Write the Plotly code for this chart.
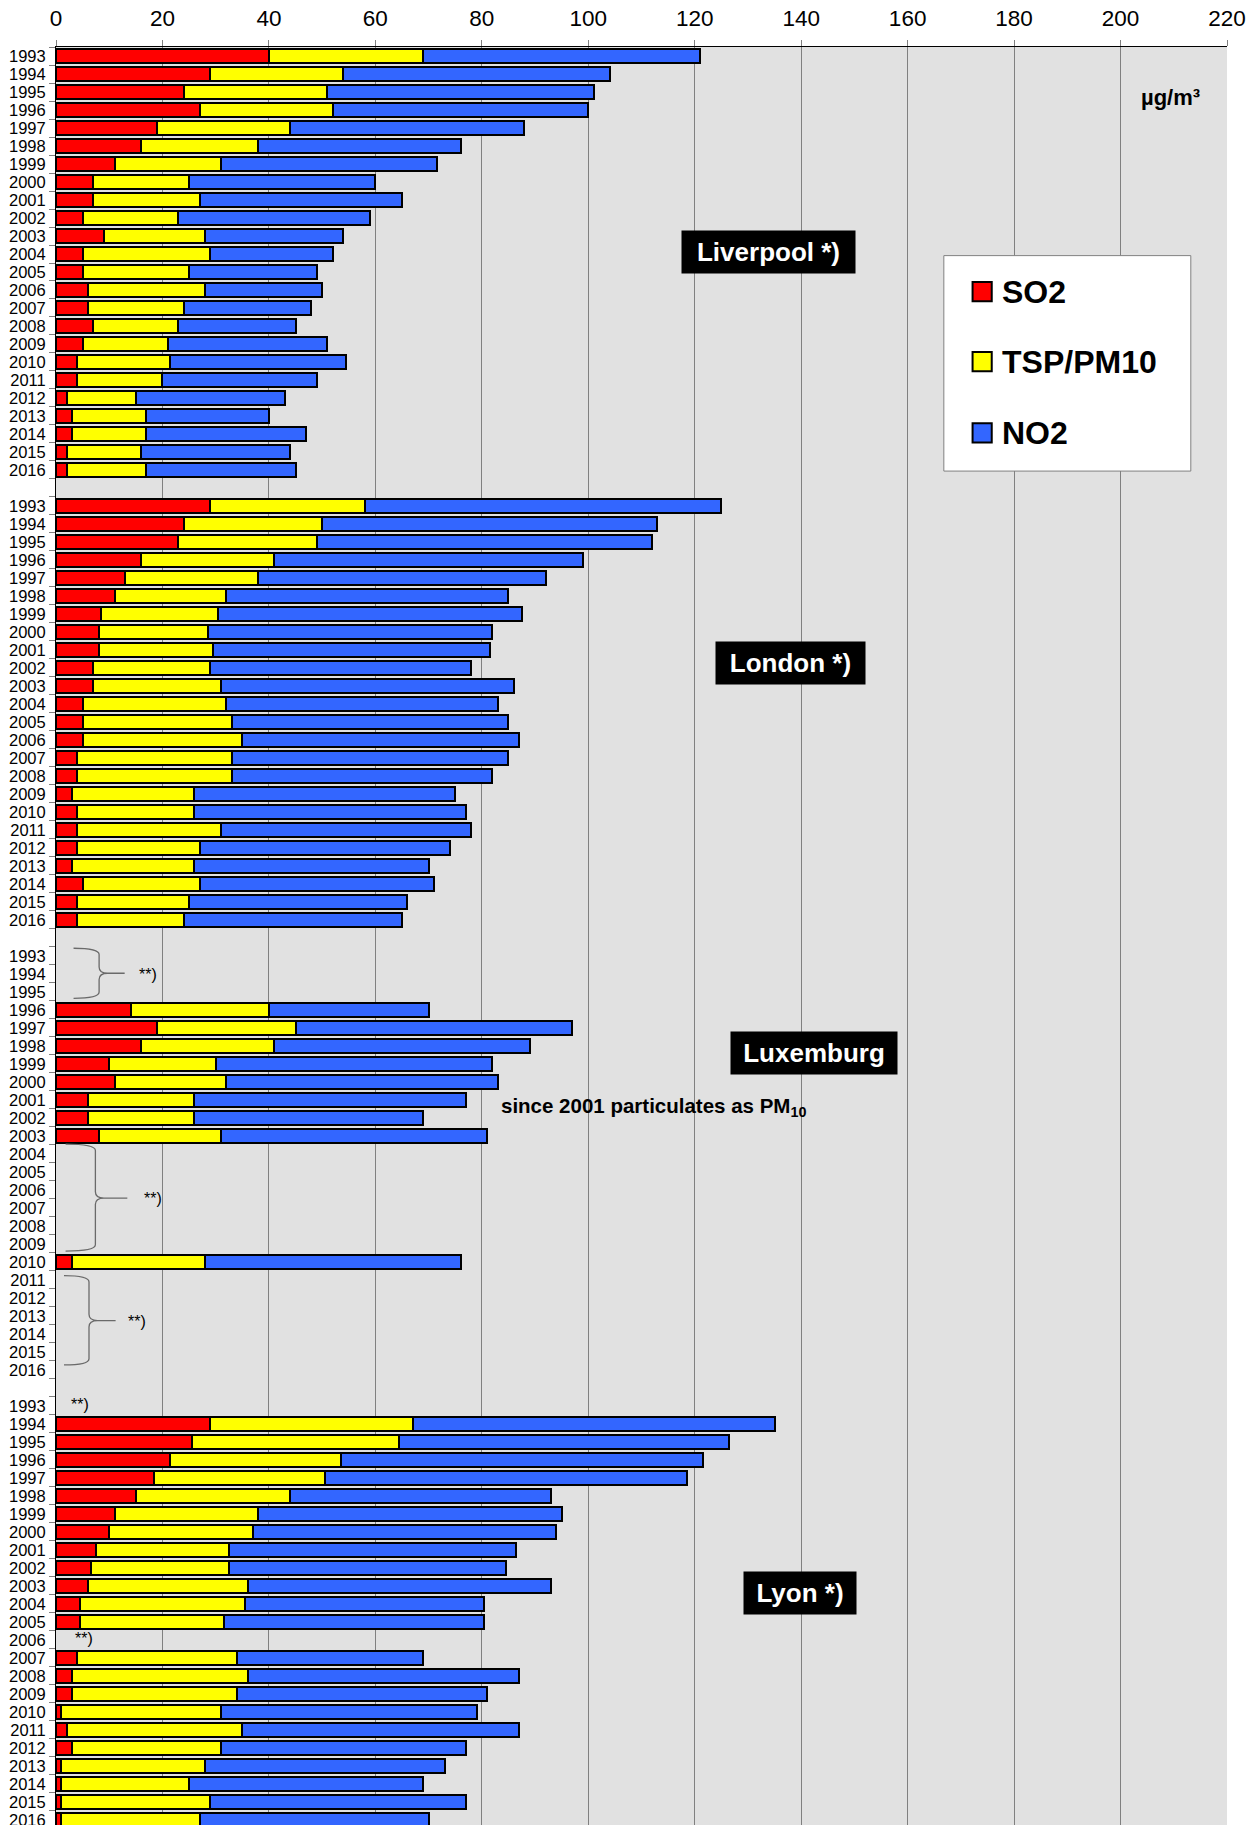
import plotly.graph_objects as go

# ---------------------------------------------------------------------------
# Annual mean concentrations (µg/m³) per city, 1993-2016
# ---------------------------------------------------------------------------
years = list(range(1993, 2017))

liverpool_so2 = [40, 29, 24, 27, 19, 16, 11, 7, 7, 5, 9, 5, 5, 6, 6, 7, 5, 4, 4, 2, 3, 3, 2, 2]
liverpool_tsp = [29, 25, 27, 25, 25, 22, 20, 18, 20, 18, 19, 24, 20, 22, 18, 16, 16, 17.5, 16, 13, 14, 14, 14, 15]
liverpool_no2 = [52, 50, 50, 48, 44, 38, 40.5, 35, 38, 36, 26, 23, 24, 22, 24, 22, 30, 33, 29, 28, 23, 30, 28, 28]

london_so2 = [29, 24, 23, 16, 13, 11, 8.5, 8, 8, 7, 7, 5, 5, 5, 4, 4, 3, 4, 4, 4, 3, 5, 4, 4]
london_tsp = [29, 26, 26, 25, 25, 21, 22, 20.5, 21.5, 22, 24, 27, 28, 30, 29, 29, 23, 22, 27, 23, 23, 22, 21, 20]
london_no2 = [67, 63, 63, 58, 54, 53, 57, 53.5, 52, 49, 55, 51, 52, 52, 52, 49, 49, 51, 47, 47, 44, 44, 41, 41]

luxemburg_so2 = [None, None, None, 14, 19, 16, 10, 11, 6, 6, 8,
                 None, None, None, None, None, None, 3, None, None, None, None, None, None]
luxemburg_tsp = [None, None, None, 26, 26, 25, 20, 21, 20, 20, 23,
                 None, None, None, None, None, None, 25, None, None, None, None, None, None]
luxemburg_no2 = [None, None, None, 30, 52, 48, 52, 51, 51, 43, 50,
                 None, None, None, None, None, None, 48, None, None, None, None, None, None]

lyon_so2 = [None, 29, 25.5, 21.5, 18.5, 15, 11, 10, 7.5, 6.5, 6, 4.5, 4.5, None, 4, 3, 3, 1, 2, 3, 1, 1, 1, 1]
lyon_tsp = [None, 38, 39, 32, 32, 29, 27, 27, 25, 26, 30, 31, 27, None, 30, 33, 31, 30, 33, 28, 27, 24, 28, 26]
lyon_no2 = [None, 68, 62, 68, 68, 49, 57, 57, 54, 52, 57, 45, 49, None, 35, 51, 47, 48, 52, 46, 45, 44, 48, 43]

city_names = ["Liverpool *)", "London *)", "Luxemburg", "Lyon *)"]
city_series = [
    (liverpool_so2, liverpool_tsp, liverpool_no2),
    (london_so2, london_tsp, london_no2),
    (luxemburg_so2, luxemburg_tsp, luxemburg_no2),
    (lyon_so2, lyon_tsp, lyon_no2),
]

pollutants = ["SO2", "TSP/PM10", "NO2"]
colors = ["#FF0000", "#FFFF00", "#3366FF"]

FONT = "Liberation Sans, Arial, sans-serif"

# ---------------------------------------------------------------------------
# One row per year, one blank separator row between cities
# ---------------------------------------------------------------------------
ROWS_PER_CITY = len(years) + 1

row_pos, row_text = [], []
stack = [[], [], []]
for k, series in enumerate(city_series):
    for i, yr in enumerate(years):
        row_pos.append(k * ROWS_PER_CITY + i)
        row_text.append(str(yr))
        for j in range(3):
            stack[j].append(series[j][i])

n_rows = ROWS_PER_CITY * len(city_series) - 1
boundaries = [r - 0.5 for r in range(n_rows + 1)]


def city_row(k, frac):
    """Row coordinate inside block k (frac counts rows from the block's first year)."""
    return k * ROWS_PER_CITY + frac


fig = go.Figure()
for j in range(3):
    fig.add_trace(go.Bar(
        x=stack[j], y=row_pos, orientation="h", name=pollutants[j],
        width=0.8,
        marker=dict(color=colors[j], line=dict(color="#000000", width=2)),
        showlegend=False,
        hovertemplate="%{x}<extra>" + pollutants[j] + "</extra>",
    ))

# ---------------------------------------------------------------------------
# Curly braces marking years without data
# ---------------------------------------------------------------------------
def brace_path(x_left, x_mid, x_tip, y_top, y_bot, y_tip, c=0.35):
    return (f"M{x_left},{y_top} Q{x_mid},{y_top} {x_mid},{y_top + c} "
            f"L{x_mid},{y_tip - c} Q{x_mid},{y_tip} {x_mid + 1.6},{y_tip} "
            f"L{x_tip},{y_tip} "
            f"M{x_mid + 1.6},{y_tip} Q{x_mid},{y_tip} {x_mid},{y_tip + c} "
            f"L{x_mid},{y_bot - c} Q{x_mid},{y_bot} {x_left},{y_bot}")


braces = [
    # (x_left, x_mid, x_tip, top, bottom, tip, label x) in the Luxemburg block
    (3.3, 8.1, 12.9, -0.43, 2.35, 0.96, 15.2),
    (1.8, 7.4, 13.4, 10.45, 16.4, 13.45, 16.1),
    (1.5, 6.2, 11.2, 17.76, 22.72, 20.26, 13.2),
]
shapes = []
annotations = []
for xl, xm, xt, yt, yb, yp, xlab in braces:
    shapes.append(dict(
        type="path", xref="x", yref="y",
        path=brace_path(xl, xm, xt, city_row(2, yt), city_row(2, yb), city_row(2, yp)),
        line=dict(color="#6a6a6a", width=1.3),
    ))
    annotations.append(dict(
        x=xlab, y=city_row(2, yp + 0.05), xref="x", yref="y", text="**)",
        showarrow=False, xanchor="left", yanchor="middle",
        font=dict(family=FONT, size=16, color="#000000"),
    ))

# Lyon: missing single years
for yr_idx, xlab in [(0, 2.5), (13, 3.2)]:
    annotations.append(dict(
        x=xlab, y=city_row(3, yr_idx - 0.1), xref="x", yref="y", text="**)",
        showarrow=False, xanchor="left", yanchor="middle",
        font=dict(family=FONT, size=16, color="#000000"),
    ))

# ---------------------------------------------------------------------------
# City labels
# ---------------------------------------------------------------------------
city_label_pos = [(133.8, 10.9, 171), (137.9, 8.7, 147), (142.4, 5.4, 164), (139.8, 10.4, 110)]
for k, (name, (lx, ly, w)) in enumerate(zip(city_names, city_label_pos)):
    annotations.append(dict(
        x=lx, y=city_row(k, ly), xref="x", yref="y", text="<b>" + name + "</b>",
        showarrow=False, xanchor="center", yanchor="middle",
        bgcolor="#000000", width=w, height=40,
        font=dict(family=FONT, size=26, color="#FFFFFF"),
    ))

annotations.append(dict(
    x=83.2, y=city_row(2, 8.4), xref="x", yref="y",
    text="<b>since 2001 particulates as PM<sub>10</sub></b>",
    showarrow=False, xanchor="left", yanchor="middle",
    font=dict(family=FONT, size=20.5, color="#000000"),
))

annotations.append(dict(
    x=209.4, y=2.3, xref="x", yref="y", text="<b>µg/m³</b>",
    showarrow=False, xanchor="center", yanchor="middle",
    font=dict(family=FONT, size=22, color="#000000"),
))

# ---------------------------------------------------------------------------
# Legend box
# ---------------------------------------------------------------------------
shapes.append(dict(type="rect", xref="x", yref="y", x0=166.8, x1=213.2, y0=11.09, y1=23.06,
                   fillcolor="#FFFFFF", line=dict(color="#808080", width=1), layer="above"))
legend_rows = [13.09, 16.98, 20.94]
for j, ly in enumerate(legend_rows):
    shapes.append(dict(type="rect", xref="x", yref="y", x0=172.2, x1=175.8,
                       y0=ly - 0.53, y1=ly + 0.53,
                       fillcolor=colors[j], line=dict(color="#000000", width=2), layer="above"))
    annotations.append(dict(
        x=177.3, y=ly, xref="x", yref="y", text="<b>" + pollutants[j] + "</b>",
        showarrow=False, xanchor="left", yanchor="middle",
        font=dict(family=FONT, size=32, color="#000000"),
    ))

fig.update_layout(
    width=1257, height=1825,
    margin=dict(l=56, r=30, t=47, b=0),
    paper_bgcolor="#FFFFFF", plot_bgcolor="#E1E1E1",
    barmode="stack", bargap=0.2,
    font=dict(family=FONT, color="#000000"),
    shapes=shapes, annotations=annotations,
    xaxis=dict(
        side="top", range=[0, 220], tickmode="array", tickvals=list(range(0, 221, 20)),
        showgrid=True, gridcolor="#808080", gridwidth=1,
        ticks="outside", ticklen=6, tickcolor="#808080",
        ticklabelstandoff=5, automargin=False,
        showline=True, linecolor="#000000", linewidth=1,
        zeroline=False, tickfont=dict(size=22.5, color="#000000"),
    ),
    yaxis=dict(
        range=[n_rows - 0.72, -0.5], tickmode="array", tickvals=row_pos, ticktext=row_text,
        showgrid=False, zeroline=False, automargin=False,
        showline=True, linecolor="#000000", linewidth=1,
        ticks="outside", ticklen=6, tickcolor="rgba(0,0,0,0)",
        ticklabeloverflow="allow",
        tickfont=dict(size=16.5, color="#000000"),
        minor=dict(tickmode="array", tickvals=boundaries, ticks="outside", ticklen=6,
                   tickcolor="#808080", tickwidth=1, showgrid=False),
    ),
)

fig.write_html("out.html")
